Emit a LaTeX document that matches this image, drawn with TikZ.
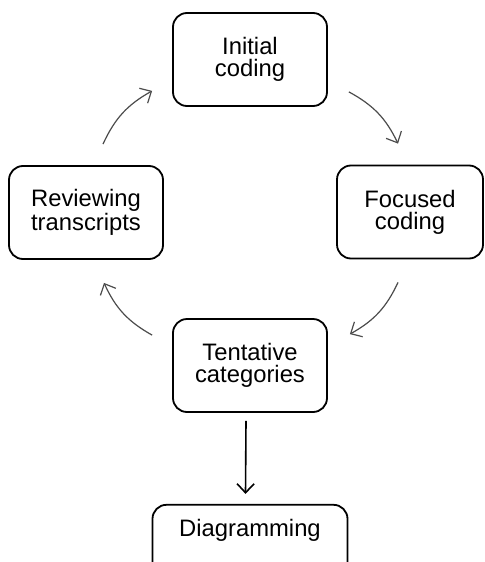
\documentclass[tikz,border=0pt]{standalone}
\usepackage{fontspec}
\setmainfont{Liberation Sans}
\usetikzlibrary{arrows.meta,positioning}

\begin{document}
\begin{tikzpicture}[x=0.5pt,y=-0.5pt,
    stage/.style={draw,line width=0.9pt,rounded corners=7pt,minimum width=77pt,minimum height=46.5pt,
      align=center,inner sep=2pt,font=\fontsize{11.9}{11}\selectfont},
    cycle/.style={->,draw=black!70,line width=0.6pt,bend left=18,
      >={Straight Barb[length=4.5pt,width=8.5pt]}},
    flow/.style={->,line width=0.8pt,>={Straight Barb[length=4.5pt,width=8.5pt]}}]
       \useasboundingbox (0,0) rectangle (484,562);
       \clip (0,0) rectangle (484,562);

       \node[stage] (init) at (250,59.5) {Initial\\coding};
       \node[stage,on grid] (review) [below left=76.5pt and 82pt of init] {Reviewing\\transcripts};
       \node[stage,on grid,minimum width=73pt] (focus) [below right=76.25pt and 80pt of init] {Focused\\coding};
       \node[stage,on grid] (tent) [below=153pt of init] {Tentative\\categories};
       \node[stage,minimum width=97.5pt,minimum height=0pt,text height=8.5pt,text depth=24pt,inner ysep=7.5pt]
         (diag) [below=45.5pt of tent] {Diagramming};

       \draw[cycle] ([xshift=8.5pt,yshift=10.5pt]review.north) to ([xshift=-10pt,yshift=8pt]init.south west);
       \draw[cycle] ([xshift=10.5pt,yshift=7.5pt]init.south east) to ([xshift=-6pt,yshift=10.5pt]focus.north);
       \draw[cycle] ([xshift=-6pt,yshift=-11.5pt]focus.south) to ([xshift=11pt,yshift=-8pt]tent.north east);
       \draw[cycle] ([xshift=-10pt,yshift=-8.5pt]tent.north west) to ([xshift=9pt,yshift=-11.5pt]review.south);
       \draw[flow] ([xshift=-2pt,yshift=-4pt]tent.south) -- ([xshift=-2.25pt,yshift=5pt]diag.north);
\end{tikzpicture}
\end{document}
